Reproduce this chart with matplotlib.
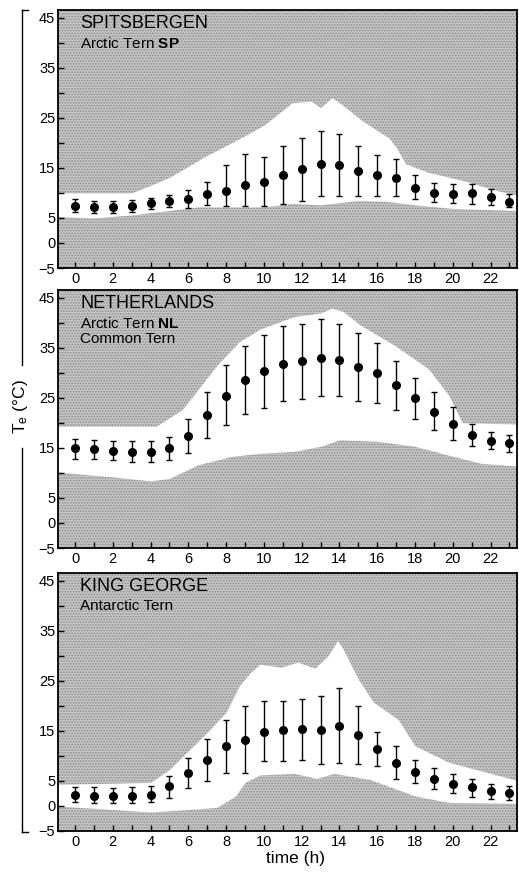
import numpy as np
import matplotlib
matplotlib.use('Agg')
import matplotlib.pyplot as plt
from matplotlib.lines import Line2D
from matplotlib.patches import Rectangle

plt.rcParams['font.family'] = ['Liberation Sans', 'DejaVu Sans']
plt.rcParams['mathtext.fontset'] = 'custom'
plt.rcParams['mathtext.rm'] = 'Liberation Sans'
plt.rcParams['mathtext.bf'] = 'Liberation Sans:bold'
plt.rcParams['mathtext.default'] = 'regular'
plt.rcParams['hatch.linewidth'] = 0.8

hours = list(range(24))

# Spitsbergen - Arctic Tern SP
sp_mean = [7.4, 7.2, 7.2, 7.4, 7.9, 8.3, 8.7, 9.8, 10.4, 11.6, 12.1, 13.6,
           14.8, 15.8, 15.5, 14.3, 13.5, 12.9, 11.0, 10.0, 9.8, 9.9, 9.1, 8.2]
sp_hi = [8.7, 8.4, 8.4, 8.6, 9.0, 9.5, 10.5, 12.1, 15.6, 17.8, 17.2, 19.3,
         21.0, 22.3, 21.7, 19.3, 17.5, 16.8, 13.5, 12.0, 11.8, 11.8, 10.8, 9.7]
sp_lo = [6.1, 6.0, 6.0, 6.2, 6.8, 7.1, 6.9, 7.5, 7.3, 7.3, 7.3, 7.7,
         8.3, 9.4, 9.4, 9.4, 9.4, 9.4, 8.7, 8.1, 7.9, 7.7, 7.5, 7.1]
sp_env_t = [-1, 3, 4, 5, 7, 8.5, 10, 11.5, 12.5, 13, 13.6, 14.1, 15.2, 16.6,
            17, 17.5, 18.7, 20.5, 22.3, 24]
sp_env_hi = [10.0, 10.0, 11.5, 13.1, 17.5, 20.4, 23.5, 28.0, 28.3, 27.0, 29.0,
             27.7, 24.4, 21.0, 19.1, 15.8, 14.1, 12.5, 10.5, 9.0]
sp_env_lo_t = [-1, 1, 3, 5, 6.5, 10, 11.5, 13, 15, 16.5, 18, 20, 24]
sp_env_lo = [5.3, 5.0, 5.6, 6.5, 7.2, 7.2, 7.9, 7.6, 8.5, 8.3, 7.6, 6.9, 6.4]

# Netherlands - Arctic Tern NL, Common Tern
nl_mean = [14.9, 14.7, 14.4, 14.1, 14.1, 14.9, 17.4, 21.5, 25.4, 28.6, 30.3, 31.7,
           32.3, 32.9, 32.5, 31.2, 29.9, 27.5, 24.9, 22.2, 19.7, 17.6, 16.4, 15.9]
nl_hi = [16.8, 16.6, 16.4, 16.4, 16.4, 17.1, 20.8, 26.2, 31.6, 35.4, 37.6, 39.3,
         39.7, 40.7, 39.7, 38.0, 36.0, 32.3, 28.9, 26.1, 23.1, 19.7, 18.1, 17.6]
nl_lo = [12.7, 12.7, 12.5, 12.1, 12.1, 12.5, 13.9, 16.9, 19.6, 21.8, 23.0, 24.4,
         24.7, 25.3, 25.3, 24.4, 23.9, 22.5, 20.8, 18.6, 16.6, 15.4, 14.7, 14.2]
nl_env_t = [-1, 4.3, 5.7, 7.5, 8.7, 9.8, 11.6, 13, 13.6, 14.2, 15.1, 16.9,
            18.7, 19.8, 20.5, 24]
nl_env_hi = [19.3, 19.3, 22.7, 31.4, 36.2, 38.7, 41.2, 41.9, 42.9, 42.2, 39.5,
             35.5, 30.8, 25.4, 20.0, 19.7]
nl_env_lo_t = [-1, 2, 4, 5, 6.5, 8.3, 9.8, 11.6, 13, 14, 16, 18, 19.7, 21.5, 24]
nl_env_lo = [10.2, 9.2, 8.4, 8.9, 11.6, 13.3, 13.9, 14.3, 15.3, 16.6, 16.3,
             15.3, 13.6, 11.9, 11.2]

# King George - Antarctic Tern
kg_mean = [2.1, 1.9, 1.9, 1.9, 2.1, 3.9, 6.5, 9.2, 11.9, 13.1, 14.8, 15.1,
           15.3, 15.1, 16.0, 14.1, 11.3, 8.6, 6.8, 5.3, 4.3, 3.7, 2.9, 2.5]
kg_hi = [3.7, 3.7, 3.5, 3.7, 3.9, 6.0, 9.5, 13.3, 17.2, 19.9, 20.9, 21.0,
         21.3, 22.0, 23.6, 20.0, 14.7, 11.9, 9.1, 7.5, 6.3, 5.3, 4.3, 3.9]
kg_lo = [0.7, 0.5, 0.5, 0.5, 0.7, 1.5, 3.5, 4.9, 6.5, 6.5, 9.0, 9.0,
         9.2, 8.3, 8.5, 8.3, 7.9, 5.3, 4.6, 3.3, 2.5, 1.7, 1.3, 1.2]
kg_env_t = [-1, 4, 5, 6, 7, 8, 8.7, 9.3, 9.8, 10.9, 11.8, 12.7, 13.4, 13.9,
            14.2, 15.0, 15.8, 17.1, 18, 19.8, 21.5, 23.2, 24]
kg_env_hi = [4.3, 4.7, 7.3, 11.0, 14.7, 18.7, 24.0, 26.7, 28.3, 27.7, 28.7,
             27.5, 30.0, 33.0, 31.3, 25.3, 20.7, 17.3, 12.0, 8.7, 7.0, 5.3, 4.7]
kg_env_lo_t = [-1, 2, 4, 6, 7.5, 8.5, 9, 9.8, 11.6, 12.8, 13.7, 15.6, 18, 19.8, 24]
kg_env_lo = [0.0, -0.7, -1.2, -0.7, -0.3, 2.0, 4.7, 6.2, 6.5, 5.5, 6.5, 5.3,
             2.0, 0.7, 0.5]

panels = [
    ('SPITSBERGEN', ['Arctic Tern $\\mathbf{SP}$'], sp_mean, sp_lo, sp_hi,
     sp_env_t, sp_env_hi, sp_env_lo_t, sp_env_lo),
    ('NETHERLANDS', ['Arctic Tern $\\mathbf{NL}$', 'Common Tern'], nl_mean, nl_lo, nl_hi,
     nl_env_t, nl_env_hi, nl_env_lo_t, nl_env_lo),
    ('KING GEORGE', ['Antarctic Tern'], kg_mean, kg_lo, kg_hi,
     kg_env_t, kg_env_hi, kg_env_lo_t, kg_env_lo),
]

fig = plt.figure(figsize=(5.19, 8.73), dpi=100)
tops = [10, 290, 573]
H = 873.0
for i, (site, species, mean, lo, hi, et, ehi, elt, elo) in enumerate(panels):
    top = tops[i]
    ax = fig.add_axes([58 / 519, (H - top - 258) / H, 459 / 519, 258 / H])
    ax.set_facecolor('#c6c6c6')
    # stippled background
    ax.add_patch(Rectangle((0, 0), 1, 1, transform=ax.transAxes, facecolor='none',
                           edgecolor='#8c8c8c', hatch='......', lw=0, zorder=0))
    # white envelope between lower and upper limits
    grid = np.union1d(et, elt)
    ax.fill_between(grid, np.interp(grid, elt, elo), np.interp(grid, et, ehi),
                    color='white', lw=0, zorder=1)
    m = np.array(mean)
    yerr = [m - np.array(lo), np.array(hi) - m]
    ax.errorbar(hours, mean, yerr=yerr, fmt='o', color='black', ms=5.5,
                elinewidth=1, capsize=2.5, capthick=1, zorder=3)
    ax.set_xlim(-0.9, 23.4)
    ax.set_ylim(-5, 46.5)
    ax.set_yticks([-5, 0, 5, 15, 25, 35, 45])
    ax.set_yticks([10, 20, 30, 40], minor=True)
    ax.set_xticks(range(0, 23, 2))
    ax.set_xticks(range(1, 24, 2), minor=True)
    ax.tick_params(which='both', direction='in', length=4, width=1,
                   labelsize=10.5, pad=2, colors='black')
    ax.tick_params(axis='x', which='both', pad=3)
    for s in ax.spines.values():
        s.set_linewidth(1.3)
    ax.text(0.048, 0.98, site, transform=ax.transAxes, fontsize=13,
            va='top', ha='left', zorder=5)
    for j, sp in enumerate(species):
        ax.text(0.048, 0.9 - 0.062 * j, sp, transform=ax.transAxes,
                fontsize=11, va='top', ha='left', zorder=5)

fig.text(296 / 519, 1 - 858 / H, 'time (h)', ha='center', va='center', fontsize=12.5)
fig.text(20 / 519, 1 - 407 / H, 'T$_e$ (°C)', ha='center', va='center',
         rotation=90, fontsize=12.5)
# bracket on the left spanning all three panels
bx = 22 / 519
fig.add_artist(Line2D([bx, bx], [1 - 10 / H, 1 - 365 / H], color='black', lw=1))
fig.add_artist(Line2D([bx, bx], [1 - 448 / H, 1 - 832 / H], color='black', lw=1))
fig.add_artist(Line2D([bx, 28 / 519], [1 - 10 / H, 1 - 10 / H], color='black', lw=1))
fig.add_artist(Line2D([bx, 28 / 519], [1 - 832 / H, 1 - 832 / H], color='black', lw=1))

fig.savefig('out.png', dpi=100)
